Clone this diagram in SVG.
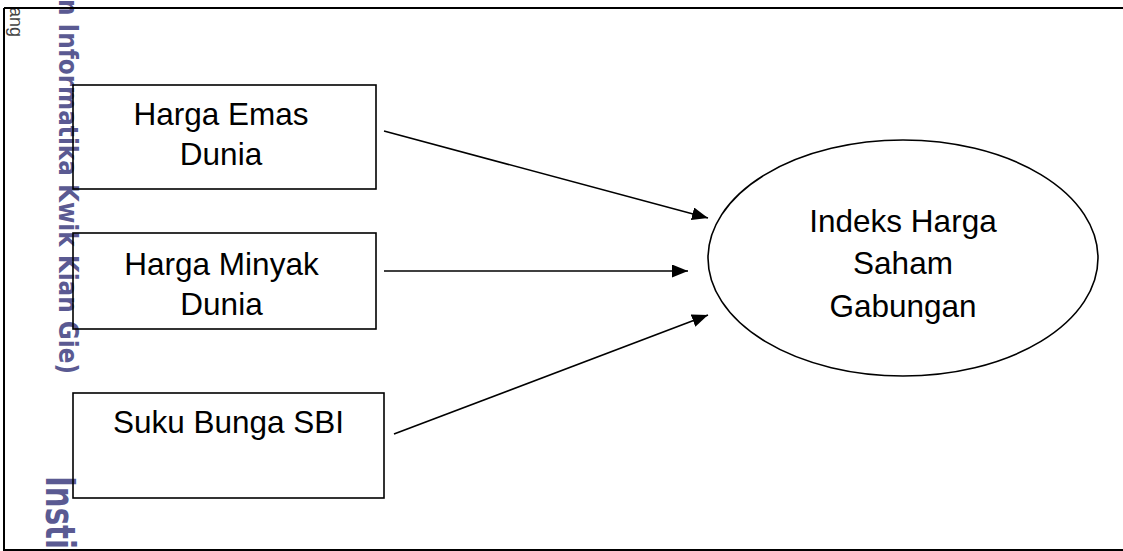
<svg xmlns="http://www.w3.org/2000/svg" width="1123" height="551" viewBox="0 0 1123 551">
<style>
.box{fill:none;stroke:#000;stroke-width:1.6}
.lbl{font-family:"Liberation Sans",Arial,sans-serif;font-size:31.5px;fill:#000;text-anchor:middle}
.wm{font-family:"DejaVu Sans",sans-serif;font-weight:bold;fill:#5a5a92}
.conn{stroke:#000;stroke-width:1.6;fill:none}
.frame{stroke:#000;stroke-width:2;fill:none}
</style>
<defs>
<marker id="ah" markerUnits="userSpaceOnUse" markerWidth="18" markerHeight="14" refX="16" refY="6.5" orient="auto">
<path d="M0,0 L16,6.5 L0,13 z" fill="#000"/>
</marker>
</defs>
<rect width="1123" height="551" fill="#fff"/>
<g id="watermark">
<text class="wm" font-size="27" transform="translate(59,-1) rotate(90)" textLength="375" lengthAdjust="spacingAndGlyphs">n Informatika Kwik Kian Gie)</text>
<text class="wm" font-size="40" transform="translate(46,476) rotate(90)" textLength="73" lengthAdjust="spacingAndGlyphs">Insti</text>
<text font-family="Liberation Sans,Arial,sans-serif" font-size="18" fill="#444" transform="translate(10,7) rotate(90)">ang</text>
</g>
<g id="frame">
<path class="frame" d="M4,8 H1123 M4,8 V550 H1123"/>
</g>
<g id="node-emas">
<rect class="box" x="73" y="85" width="303" height="104"/>
<text class="lbl" x="221" y="125">Harga Emas</text>
<text class="lbl" x="221" y="165">Dunia</text>
</g>
<g id="node-minyak">
<rect class="box" x="73" y="233" width="303" height="96"/>
<text class="lbl" x="221.5" y="275">Harga Minyak</text>
<text class="lbl" x="221.5" y="315">Dunia</text>
</g>
<g id="node-sbi">
<rect class="box" x="73" y="393" width="311" height="105"/>
<text class="lbl" x="228.5" y="433">Suku Bunga SBI</text>
</g>
<g id="node-ihsg">
<ellipse class="box" cx="903" cy="258" rx="195" ry="118"/>
<text class="lbl" x="903" y="232">Indeks Harga</text>
<text class="lbl" x="903" y="274">Saham</text>
<text class="lbl" x="903" y="317">Gabungan</text>
</g>
<g id="connectors">
<line class="conn" x1="384" y1="131" x2="708" y2="218" marker-end="url(#ah)"/>
<line class="conn" x1="384" y1="271" x2="688" y2="271" marker-end="url(#ah)"/>
<line class="conn" x1="394" y1="434" x2="708" y2="315" marker-end="url(#ah)"/>
</g>
</svg>
